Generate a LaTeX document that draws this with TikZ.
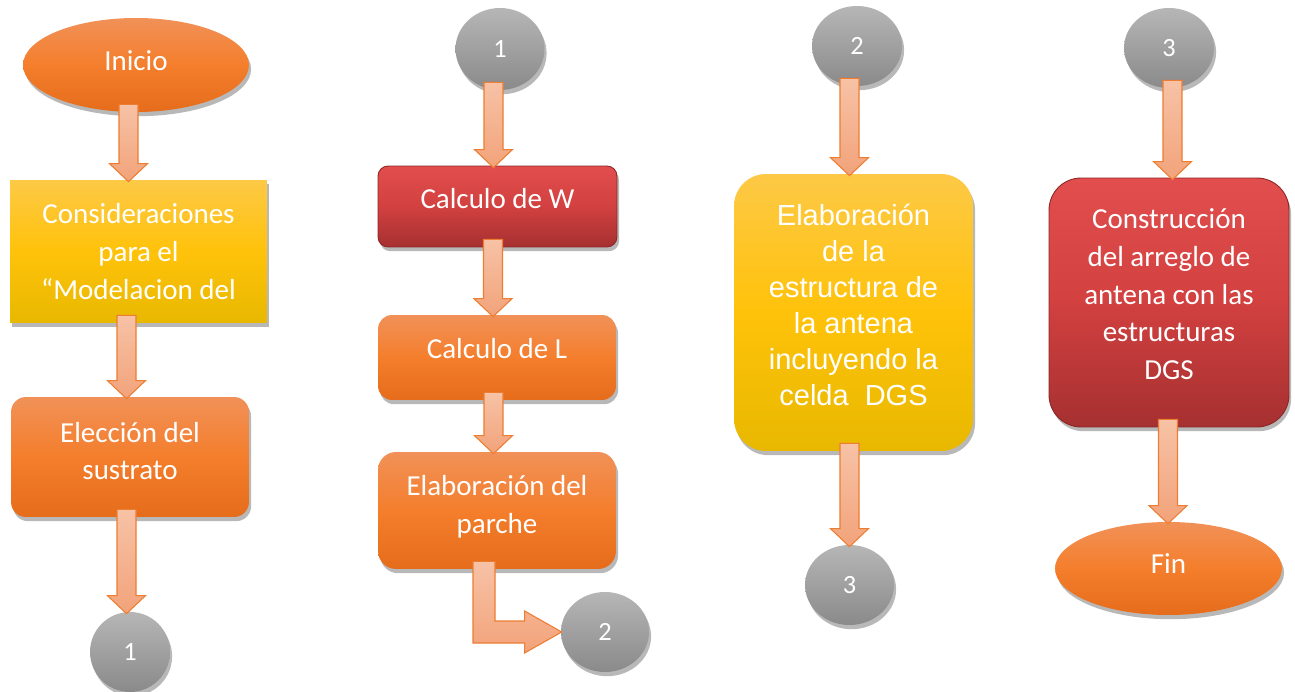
\documentclass[tikz,border=0pt]{standalone}
\usepackage{fontspec}
\setmainfont{Carlito}
\newfontfamily\arialf{Liberation Sans}
\usetikzlibrary{shapes.geometric,shadows,calc}
\definecolor{orT}{RGB}{241,145,88}
\definecolor{orM}{RGB}{244,126,44}
\definecolor{orB}{RGB}{229,108,26}
\definecolor{yeT}{RGB}{253,201,70}
\definecolor{yeM}{RGB}{255,194,10}
\definecolor{yeB}{RGB}{232,184,0}
\definecolor{reT}{RGB}{226,78,78}
\definecolor{reM}{RGB}{210,64,64}
\definecolor{reB}{RGB}{166,48,48}
\definecolor{reD}{RGB}{140,38,38}
\definecolor{grT}{RGB}{182,182,182}
\definecolor{grB}{RGB}{138,138,138}
\definecolor{arT}{RGB}{247,194,166}
\definecolor{arB}{RGB}{242,163,122}
\definecolor{arD}{RGB}{237,125,49}
\newcommand\tdown[1]{\rule[-#1]{0pt}{#1}}
\tikzset{
  shad/.style={drop shadow={shadow xshift=1.2pt,shadow yshift=-2.4pt,opacity=0.28,fill=black}},
  base/.style={text=white,font=\fontsize{16.5}{21.5}\selectfont,align=center,inner sep=0pt,shad},
  orfill/.style={top color=orT,bottom color=orB,middle color=orM},
  orbox/.style={base,orfill,rounded corners=#1},
  yebox/.style={base,top color=yeT,bottom color=yeB,middle color=yeM,rounded corners=#1},
  rebox/.style={base,top color=reT,bottom color=reB,middle color=reM,draw=reD,line width=0.5pt,rounded corners=#1},
  oval/.style={base,orfill,ellipse},
  conn/.style={ellipse,text=white,font=\fontsize{15}{18}\selectfont,inner sep=0pt,top color=grT,bottom color=grB,shad},
  blockarr/.style={top color=arT,bottom color=arB,draw=arD,line width=0.6pt,line join=miter},
}
\newcommand\varrow[3]{%
  \coordinate (vs) at ($(#1.south)+(#3,-8)$);
  \coordinate (vt) at ($(#1.south |- #2.north)+(#3,2)$);
  \path[blockarr] ($(vs)+(-9.5,0)$) -- ($(vt)+(-9.5,-18)$) -- ($(vt)+(-19,-18)$) -- (vt)
    -- ($(vt)+(19,-18)$) -- ($(vt)+(9.5,-18)$) -- ($(vs)+(9.5,0)$) -- cycle;}
\begin{document}
\begin{tikzpicture}[x=0.02cm,y=-0.02cm]
\useasboundingbox (0,0) rectangle (1295,692);
% column 1
\node[oval,minimum width=4.52cm,minimum height=1.88cm] (ini) at (136,65) {Inicio\tdown{4.6pt}};
\node[yebox=0pt,minimum width=5.14cm,minimum height=2.86cm] (cons) at (138.5,251.5) {Consideraciones\\para el\\“Modelacion del};
\node[orbox=0.3cm,minimum width=4.76cm,minimum height=2.4cm] (elec) at (130,457) {Elección del\\sustrato\tdown{7pt}};
\node[conn,minimum width=1.6cm,minimum height=1.6cm] (c1a) at (130,652) {1};
\varrow{ini}{cons}{-7.5}
\varrow{cons}{elec}{-12}
\varrow{elec}{c1a}{-3.5}
% column 2
\node[conn,minimum width=1.78cm,minimum height=1.64cm] (c1b) at (500,49) {1};
\node[rebox=0.2cm,minimum width=4.78cm,minimum height=1.62cm] (calcW) at (497.5,206.5) {Calculo de W\tdown{9pt}};
\node[orbox=0.28cm,minimum width=4.76cm,minimum height=1.7cm] (calcL) at (497,357.5) {Calculo de L\tdown{10pt}};
\node[orbox=0.36cm,minimum width=4.76cm,minimum height=2.34cm] (elab) at (497,510.5) {Elaboración del\\parche\tdown{7pt}};
\node[conn,minimum width=1.76cm,minimum height=1.6cm] (c2a) at (605,632) {2};
\varrow{c1b}{calcW}{-6.5}
\varrow{calcW}{calcL}{-4.5}
\varrow{calcL}{elab}{-3.5}
\coordinate (bA) at ($(elab.south)+(-24,-8)$);
\coordinate (bI) at ($(elab.south)+(-2,-8)$);
\coordinate (bT) at (c2a.west);
\path[blockarr] (bA) -- ($(bA |- bT)+(0,11)$) -- ($(bT)+(-36,11)$) -- ($(bT)+(-36,21)$) -- ($(bT)+(1,0)$)
  -- ($(bT)+(-36,-21)$) -- ($(bT)+(-36,-11)$) -- ($(bI |- bT)+(0,-11)$) -- (bI) -- cycle;
% column 3
\node[conn,minimum width=1.8cm,minimum height=1.6cm] (c2b) at (857,46) {2};
\node[yebox=0.64cm,minimum width=4.78cm,minimum height=5.54cm,font=\arialf\fontsize{16.5}{20.5}\selectfont] (elab2) at (853.5,312.5) {Elaboración\\de la\\estructura de\\la antena\\incluyendo la\\celda\ \ DGS\tdown{9pt}};
\node[conn,minimum width=1.78cm,minimum height=1.6cm] (c3a) at (849.5,585) {3};
\varrow{c2b}{elab2}{-7.5}
\varrow{elab2}{c3a}{-4}
% column 4
\node[conn,minimum width=1.8cm,minimum height=1.6cm] (c3b) at (1169,48) {3};
\node[rebox=0.64cm,minimum width=4.8cm,minimum height=4.98cm] (cons2) at (1169,302.5) {Construcción\\del arreglo de\\antena con las\\estructuras\\DGS\tdown{9.5pt}};
\node[oval,minimum width=4.54cm,minimum height=1.86cm] (fin) at (1168.5,568.5) {Fin\tdown{5.6pt}};
\varrow{c3b}{cons2}{3.5}
\varrow{cons2}{fin}{-1}
\end{tikzpicture}
\end{document}
